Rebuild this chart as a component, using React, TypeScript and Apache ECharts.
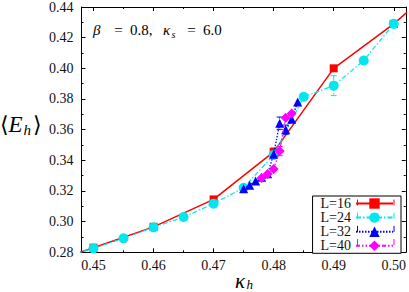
import React, { useEffect, useRef } from "react";
import * as echarts from "echarts";

const legendNames = ["L=16", "L=24", "L=32", "L=40"];

const kappaL16 = [0.44, 0.45, 0.46, 0.47, 0.48, 0.49, 0.5, 0.51];
const energyL16 = [0.27, 0.283, 0.2966, 0.3145, 0.3455, 0.4, 0.429, 0.463];
const errorL16 = [0, 0, 0, 0, 0.0025, 0, 0, 0];

const kappaL24 = [0.445, 0.45, 0.455, 0.46, 0.465, 0.47, 0.475, 0.48, 0.485, 0.49, 0.495, 0.5];
const energyL24 = [0.2765, 0.2826, 0.2891, 0.2963, 0.303, 0.3117, 0.3221, 0.3435, 0.3814, 0.3887, 0.4051, 0.429];
const errorL24 = [0, 0, 0, 0, 0, 0, 0, 0.002, 0, 0.0065, 0, 0];

const kappaL32 = [0.475, 0.476, 0.477, 0.478, 0.479, 0.48, 0.481, 0.482, 0.483, 0.484];
const energyL32 = [0.3215, 0.3238, 0.3265, 0.329, 0.3312, 0.344, 0.3642, 0.36, 0.3668, 0.378];
const errorL32 = [0, 0, 0, 0, 0, 0, 0.004, 0.003, 0, 0];

const kappaL40 = [0.478, 0.479, 0.48, 0.481, 0.482, 0.483];
const energyL40 = [0.3285, 0.3311, 0.3344, 0.346, 0.3678, 0.3706];
const errorL40 = [0, 0, 0, 0.003, 0, 0];

const xTicks = [0.45, 0.46, 0.47, 0.48, 0.49, 0.5];
const xMinorTicks = [0.455, 0.465, 0.475, 0.485, 0.495];

const X_MIN = 0.448;
const X_MAX = 0.502;
const Y_MIN = 0.28;
const Y_MAX = 0.44;
const Y_STEP = 0.02;

const FONT_FAMILY = '"Liberation Serif", "DejaVu Serif", serif';
const font = (size: number, italic = false) =>
  `${italic ? "italic " : ""}${size}px ${FONT_FAMILY}`;

const seriesStyles = [
  { color: "#ff0000", symbol: "rect", size: 8, dash: "solid" as any, width: 1.5 },
  { color: "#00e8ee", symbol: "circle", size: 10, dash: [5, 2, 1.5, 2] as any, width: 1.2 },
  { color: "#0000ff", symbol: "triangle", size: 9, dash: [1.5, 1.5] as any, width: 1.3 },
  { color: "#ff00ff", symbol: "diamond", size: 10, dash: [4, 2, 1.5, 2, 1.5, 2] as any, width: 1.2 },
];

const allKappa = [kappaL16, kappaL24, kappaL32, kappaL40];
const allEnergy = [energyL16, energyL24, energyL32, energyL40];
const allError = [errorL16, errorL24, errorL32, errorL40];

// legend row centres (for the error-bar caps of the key samples)
const legendRowY = [202.5, 215.7, 228.9, 242.1];

function App() {
  const ref = useRef<HTMLDivElement>(null);
  useEffect(() => {
    if (!ref.current) return;
    const chart = echarts.init(ref.current, undefined, { renderer: "svg" });

    const lineSeries = legendNames.map((name, i) => {
      const st = seriesStyles[i];
      return {
        name,
        type: "line",
        xAxisIndex: 0,
        yAxisIndex: 0,
        data: allKappa[i].map((k, j) => [k, allEnergy[i][j]]),
        symbol: st.symbol,
        symbolSize: st.size,
        showSymbol: true,
        clip: true,
        z: 3 + i,
        itemStyle: { color: st.color },
        lineStyle: { color: st.color, width: st.width, type: st.dash },
      };
    });

    const errorSeries = legendNames.map((name, i) => {
      const st = seriesStyles[i];
      return {
        name: name + " error",
        type: "custom",
        xAxisIndex: 0,
        yAxisIndex: 0,
        clip: true,
        z: 3 + i,
        data: allKappa[i]
          .map((k, j) => [k, allEnergy[i][j], allError[i][j]])
          .filter((d) => d[2] > 0),
        encode: { x: 0, y: 1 },
        renderItem: (params: any, api: any) => {
          const x = api.value(0);
          const y = api.value(1);
          const e = api.value(2);
          const top = api.coord([x, y + e]);
          const bot = api.coord([x, y - e]);
          const c = 3;
          const stroke = st.color;
          return {
            type: "group",
            children: [
              {
                type: "line",
                shape: { x1: top[0], y1: top[1], x2: bot[0], y2: bot[1] },
                style: { stroke, lineWidth: 1, lineDash: Array.isArray(st.dash) ? st.dash : null },
              },
              {
                type: "line",
                shape: { x1: top[0] - c, y1: top[1], x2: top[0] + c, y2: top[1] },
                style: { stroke, lineWidth: 1 },
              },
              {
                type: "line",
                shape: { x1: bot[0] - c, y1: bot[1], x2: bot[0] + c, y2: bot[1] },
                style: { stroke, lineWidth: 1 },
              },
            ],
          };
        },
      };
    });

    const axisLineStyle = { color: "#000", width: 1 };
    const labelStyle = { fontFamily: FONT_FAMILY, fontSize: 14, color: "#111" };

    const xBase = {
      type: "value",
      min: X_MIN,
      max: X_MAX,
      splitLine: { show: false },
      minorSplitLine: { show: false },
    };
    const yBase = {
      type: "value",
      min: Y_MIN,
      max: Y_MAX,
      interval: Y_STEP,
      splitLine: { show: false },
      minorSplitLine: { show: false },
      minorTick: { show: true, splitNumber: 2, length: 2, lineStyle: axisLineStyle },
      axisTick: { show: true, inside: true, length: 4, lineStyle: axisLineStyle },
    };

    const capGraphics: any[] = [];
    legendRowY.forEach((yy, i) => {
      [357.5, 394].forEach((xx) => {
        capGraphics.push({
          type: "line",
          z: 100,
          shape: { x1: xx, y1: yy - 3, x2: xx, y2: yy + 3 },
          style: { stroke: seriesStyles[i].color, lineWidth: 1 },
        });
      });
    });

    const option: any = {
      animation: false,
      backgroundColor: "#fff",
      grid: { left: 81.5, top: 5.1, width: 328.3, height: 247.2, containLabel: false },
      xAxis: [
        {
          ...xBase,
          position: "bottom",
          axisLine: { show: true, onZero: false, lineStyle: axisLineStyle },
          axisTick: { show: true, inside: true, length: 4, customValues: xTicks, lineStyle: axisLineStyle },
          axisLabel: {
            ...labelStyle,
            customValues: xTicks,
            margin: 6,
            formatter: (v: number) => v.toFixed(2),
          },
        },
        {
          ...xBase,
          position: "bottom",
          axisLine: { show: false },
          axisTick: { show: true, inside: true, length: 2, customValues: xMinorTicks, lineStyle: axisLineStyle },
          axisLabel: { show: false },
        },
        {
          ...xBase,
          position: "top",
          axisLine: { show: true, onZero: false, lineStyle: axisLineStyle },
          axisTick: { show: true, inside: true, length: 4, customValues: xTicks, lineStyle: axisLineStyle },
          axisLabel: { show: false },
        },
        {
          ...xBase,
          position: "top",
          axisLine: { show: false },
          axisTick: { show: true, inside: true, length: 2, customValues: xMinorTicks, lineStyle: axisLineStyle },
          axisLabel: { show: false },
        },
      ],
      yAxis: [
        {
          ...yBase,
          position: "left",
          axisLine: { show: true, onZero: false, lineStyle: axisLineStyle },
          axisLabel: { ...labelStyle, margin: 8, formatter: (v: number) => v.toFixed(2) },
        },
        {
          ...yBase,
          position: "right",
          axisLine: { show: true, onZero: false, lineStyle: axisLineStyle },
          axisLabel: { show: false },
        },
      ],
      legend: {
        data: legendNames,
        orient: "vertical",
        right: 8,
        top: 196,
        align: "right",
        itemWidth: 37,
        itemHeight: 13,
        itemGap: 0.1,
        padding: [0.5, 7, 0.5, 8],
        borderColor: "#000",
        borderWidth: 1,
        borderRadius: 0,
        backgroundColor: "#fff",
        selectedMode: false,
        textStyle: { fontFamily: FONT_FAMILY, fontSize: 14, color: "#111", lineHeight: 13 },
        z: 10,
      },
      series: [...lineSeries, ...errorSeries],
      graphic: [
        ...capGraphics,
        // annotation
        { type: "text", x: 93, y: 30, style: { text: "β", font: font(15, true), fill: "#000", verticalAlign: "middle" } },
        { type: "text", x: 118.5, y: 30, style: { text: "=", font: font(15), fill: "#000", align: "center", verticalAlign: "middle" } },
        { type: "text", x: 130, y: 30, style: { text: "0.8,", font: font(15), fill: "#000", verticalAlign: "middle" } },
        { type: "text", x: 163, y: 30, style: { text: "κ", font: font(15, true), fill: "#000", verticalAlign: "middle" } },
        { type: "text", x: 171.5, y: 34.5, style: { text: "s", font: font(10, true), fill: "#000", verticalAlign: "middle" } },
        { type: "text", x: 191.5, y: 30, style: { text: "=", font: font(15), fill: "#000", align: "center", verticalAlign: "middle" } },
        { type: "text", x: 203, y: 30, style: { text: "6.0", font: font(15), fill: "#000", verticalAlign: "middle" } },
        // x axis name
        { type: "text", x: 240, y: 280.5, style: { text: "κ", font: font(21, true), fill: "#000", align: "center", verticalAlign: "middle" } },
        { type: "text", x: 246.5, y: 284.5, style: { text: "h", font: font(13, true), fill: "#000", verticalAlign: "middle" } },
        // y axis name
        { type: "text", x: 0, y: 124, style: { text: "⟨", font: font(22), fill: "#000", verticalAlign: "middle" } },
        { type: "text", x: 8.5, y: 124, style: { text: "E", font: font(23, true), fill: "#000", verticalAlign: "middle" } },
        { type: "text", x: 23.5, y: 130, style: { text: "h", font: font(15, true), fill: "#000", verticalAlign: "middle" } },
        { type: "text", x: 33, y: 124, style: { text: "⟩", font: font(22), fill: "#000", verticalAlign: "middle" } },
      ],
    };

    chart.setOption(option);
    return () => chart.dispose();
  }, []);

  return (
    <div
      ref={ref}
      style={{ position: "absolute", left: 0, top: 0, width: 409, height: 292, background: "#fff" }}
    />
  );
}

export default App;
